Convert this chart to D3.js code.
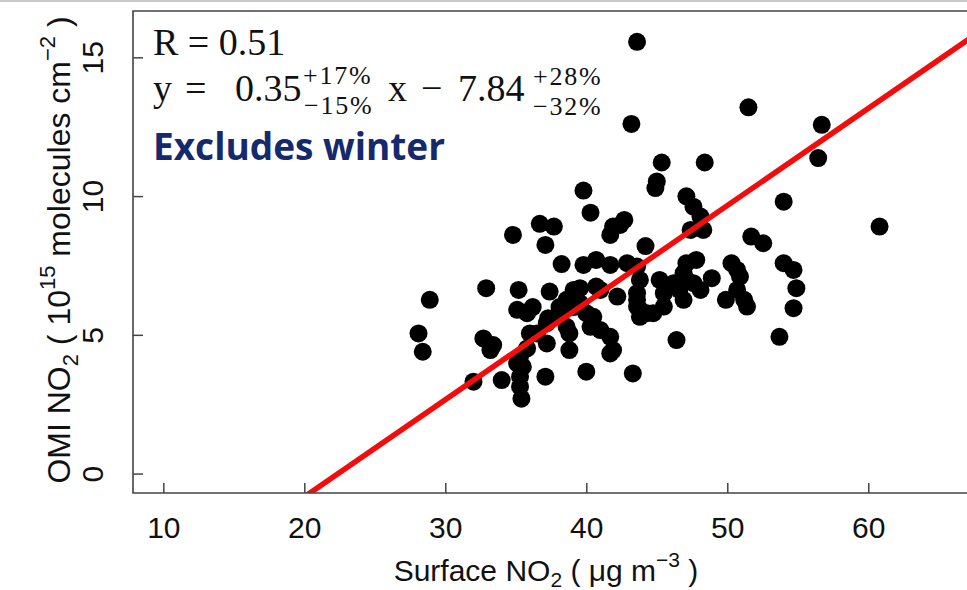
<!DOCTYPE html>
<html>
<head>
<meta charset="utf-8">
<script src="https://cdn.jsdelivr.net/npm/d3@7"></script>
<style>
  html, body { margin: 0; padding: 0; background: #fff; }
  svg { display: block; }
</style>
</head>
<body>
<div id="scatter"></div>
<script>
// surface NO2 (ug m-3) vs OMI NO2 column (1e15 molecules cm-2), winter excluded
const surfaceNO2 = [
  28.1, 28.4, 28.9, 32.0, 32.9, 32.7, 33.4, 33.2, 34.0, 34.8,
  35.2, 35.1, 35.8, 36.2, 35.3, 35.5, 35.3, 35.3, 35.4, 35.8,
  35.1, 36.7, 37.7, 37.1, 36.0, 36.5, 37.2, 37.2, 37.1, 37.4,
  37.3, 38.1, 38.25, 38.1, 38.6, 39.1, 38.6, 38.8, 38.8, 39.1,
  39.55, 39.8, 40.3, 39.8, 40.7, 41.7, 42.9, 43.6, 40.7, 39.55,
  40.0, 40.5, 40.3, 41.0, 41.7, 41.9, 40.0, 41.7, 42.2, 41.0,
  41.9, 42.7, 41.7, 42.4, 44.2, 43.3, 43.6, 43.2, 43.6, 43.8,
  44.3, 43.8, 43.6, 43.6, 43.8, 44.75, 45.5, 45.5, 45.2, 45.35,
  45.0, 44.9, 46.2, 46.4, 46.6, 47.1, 46.9, 47.6, 48.1, 47.1,
  47.8, 46.9, 47.1, 47.6, 48.1, 48.3, 47.4, 48.4, 48.9, 50.3,
  50.7, 50.9, 49.9, 50.7, 51.4, 51.2, 51.5, 51.7, 52.55, 54.0,
  54.0, 54.7, 54.9, 54.7, 53.7, 56.7, 56.45, 60.8
];
const omiNO2 = [
  5.05, 4.39, 6.26, 3.31, 6.68, 4.87, 4.63, 4.45, 3.37, 8.6,
  6.62, 5.9, 5.78, 6.0, 4.21, 3.85, 3.49, 3.13, 2.7, 4.51,
  3.97, 9.0, 8.9, 8.24, 5.05, 5.05, 5.42, 4.69, 3.49, 6.56,
  5.6, 5.78, 7.55, 6.0, 6.26, 6.0, 5.29, 5.05, 4.45, 6.62,
  6.68, 10.2, 9.4, 7.52, 7.7, 7.52, 7.58, 7.46, 6.74, 6.14,
  5.78, 5.65, 5.29, 5.17, 4.93, 4.45, 3.67, 4.33, 6.38, 6.62,
  8.9, 9.14, 8.6, 8.96, 8.2, 3.61, 15.56, 12.6, 6.26, 5.9,
  5.78, 6.98, 6.5, 6.02, 5.65, 5.78, 6.02, 6.5, 6.98, 11.21,
  10.53, 10.29, 6.86, 4.81, 6.62, 6.98, 6.26, 6.86, 6.62, 7.58,
  7.7, 7.22, 9.99, 9.62, 9.26, 8.78, 8.78, 11.21, 7.04, 7.58,
  7.34, 7.1, 6.26, 6.62, 6.02, 6.26, 13.2, 8.54, 8.3, 9.8,
  7.58, 7.34, 6.68, 5.96, 4.93, 12.57, 11.37, 8.9
];
const xTicks = [10, 20, 30, 40, 50, 60];
const yTicks = [0, 5, 10, 15];
const fitSlope = 0.35;
const fitIntercept = -7.84;

const svgWidth = 967,
      svgHeight = 590,
      margin = { top: 11, left: 133, bottom: 97, right: -8 };

const width = svgWidth - margin.left - margin.right;
const height = svgHeight - margin.top - margin.bottom;

const svg = d3.select("#scatter")
  .append("svg")
  .attr("width", svgWidth)
  .attr("height", svgHeight);

// thin grey border at the very top of the picture
svg.append("line")
  .attr("x1", 0).attr("x2", svgWidth)
  .attr("y1", 1).attr("y2", 1)
  .attr("stroke", "#c8c8c8")
  .attr("stroke-width", 2);

const chartGroup = svg.append("g")
  .attr("transform", `translate(${margin.left}, ${margin.top})`);

const xScale = d3.scaleLinear().domain([7.85, 67.57]).range([0, width]);
const yScale = d3.scaleLinear().domain([-0.70, 16.67]).range([height, 0]);

const axisFont = "'Liberation Sans', Arial, sans-serif";

// x axis, ticks pointing into the plot
const xAxis = chartGroup.append("g")
  .attr("transform", `translate(0, ${height})`)
  .call(d3.axisBottom(xScale).tickValues(xTicks).tickSize(-10).tickFormat(d3.format("d")));
xAxis.select(".domain").remove();
xAxis.selectAll("line").attr("stroke", "#444").attr("stroke-width", 1.5);
xAxis.selectAll("text")
  .attr("y", 45).attr("dy", null)
  .attr("fill", "#111")
  .style("font-family", axisFont)
  .style("font-size", "30px");

// y axis, labels parallel to the axis
const yAxis = chartGroup.append("g")
  .call(d3.axisLeft(yScale).tickValues(yTicks).tickSize(-10).tickFormat(d3.format("d")));
yAxis.select(".domain").remove();
yAxis.selectAll("line").attr("stroke", "#444").attr("stroke-width", 1.5);
yAxis.selectAll("text")
  .attr("transform", "rotate(-90)")
  .attr("x", 0).attr("y", -30).attr("dy", null)
  .attr("text-anchor", "middle")
  .attr("fill", "#111")
  .style("font-family", axisFont)
  .style("font-size", "30px");

// clip region for points and fit line
svg.append("defs").append("clipPath").attr("id", "plotClip")
  .append("rect").attr("x", 0).attr("y", 0).attr("width", width).attr("height", height);

const plotArea = chartGroup.append("g").attr("clip-path", "url(#plotClip)");

const points = surfaceNO2.map((d, i) => ({ x: d, y: omiNO2[i] }));

plotArea.selectAll("circle")
  .data(points)
  .enter()
  .append("circle")
  .attr("cx", d => xScale(d.x))
  .attr("cy", d => yScale(d.y))
  .attr("r", 9)
  .attr("fill", "#000");

// regression line
const xd = xScale.domain();
plotArea.append("line")
  .attr("x1", xScale(xd[0])).attr("y1", yScale(fitSlope * xd[0] + fitIntercept))
  .attr("x2", xScale(xd[1])).attr("y2", yScale(fitSlope * xd[1] + fitIntercept))
  .attr("stroke", "#f20c0c")
  .attr("stroke-width", 5.5);

// frame: left, top, bottom
chartGroup.append("path")
  .attr("d", `M${width + 20},0 H0 V${height} H${width + 20}`)
  .attr("fill", "none")
  .attr("stroke", "#444")
  .attr("stroke-width", 1.6);

// axis titles
const xTitle = svg.append("text")
  .attr("x", 546).attr("y", 581)
  .attr("text-anchor", "middle")
  .attr("fill", "#111")
  .style("font-family", axisFont)
  .style("font-size", "30px");
xTitle.append("tspan").text("Surface NO");
xTitle.append("tspan").attr("dy", 6).style("font-size", "21px").text("2");
xTitle.append("tspan").attr("dy", -6).text(" ( \u03bcg m");
xTitle.append("tspan").attr("dy", -14).style("font-size", "21px").text("\u22123");
xTitle.append("tspan").attr("dy", 14).text(" )");

const yTitle = svg.append("text")
  .attr("transform", "translate(70, 250) rotate(-90)")
  .attr("text-anchor", "middle")
  .attr("fill", "#111")
  .style("font-family", axisFont)
  .style("font-size", "32px");
yTitle.append("tspan").text("OMI NO");
yTitle.append("tspan").attr("dy", 8).style("font-size", "22px").text("2");
yTitle.append("tspan").attr("dy", -8).text(" ( 10");
yTitle.append("tspan").attr("dy", -15).style("font-size", "22px").text("15");
yTitle.append("tspan").attr("dy", 15).text(" molecules  cm");
yTitle.append("tspan").attr("dy", -15).style("font-size", "22px").text("\u22122");
yTitle.append("tspan").attr("dy", 15).text(" )");

// annotation
const serif = "'Liberation Serif', 'Times New Roman', serif";
const note = svg.append("g").attr("fill", "#111").style("font-family", serif);

note.append("text").attr("x", 153).attr("y", 55).style("font-size", "38px").text("R = 0.51");

const eqPieces = [
  { t: "y", x: 153, y: 101, s: 38 },
  { t: "=", x: 185, y: 101, s: 38 },
  { t: "0.35", x: 235, y: 101, s: 38 },
  { t: "+17%", x: 303, y: 84, s: 26 },
  { t: "\u221215%", x: 304, y: 114, s: 26 },
  { t: "x", x: 388, y: 101, s: 38 },
  { t: "\u2212", x: 421, y: 101, s: 38 },
  { t: "7.84", x: 458, y: 101, s: 38 },
  { t: "+28%", x: 533, y: 85, s: 26 },
  { t: "\u221232%", x: 533, y: 115, s: 26 }
];
note.selectAll("text.eq")
  .data(eqPieces)
  .enter()
  .append("text")
  .attr("class", "eq")
  .attr("x", d => d.x)
  .attr("y", d => d.y)
  .style("font-size", d => d.s + "px")
  .style("letter-spacing", d => d.s < 30 ? "1.8px" : null)
  .text(d => d.t);

svg.append("text")
  .attr("x", 153).attr("y", 160)
  .attr("fill", "#142a6c")
  .style("font-family", "'Open Sans', sans-serif")
  .style("font-weight", 700)
  .style("font-size", "37px")
  .text("Excludes winter");
</script>
</body>
</html>
